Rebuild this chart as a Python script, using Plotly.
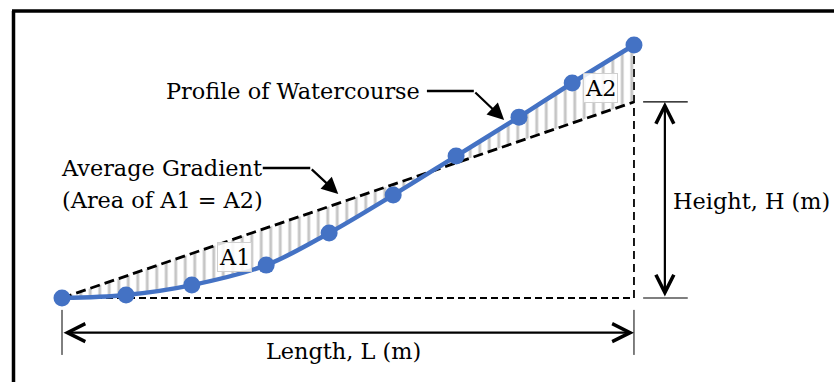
import plotly.graph_objects as go

# ---- data (relative units: length L = 100, height of profile end = 100) ----
distance = [0, 11.2, 22.7, 35.7, 46.7, 57.9, 68.9, 79.9, 89.2, 100.0]
elevation = [0, 1.2, 5.1, 13.0, 25.7, 40.7, 56.1, 71.5, 85.0, 100.0]
length_L = 100.0
gradient_height = 77.5          # height H of the equal-area average gradient
labels = {
    "profile": "Profile of Watercourse",
    "gradient": "Average Gradient",
    "area": "(Area of A1 = A2)",
    "length": "Length, L (m)",
    "height": "Height, H (m)",
    "a1": "A1",
    "a2": "A2",
}

BLUE = "#4472C4"
FONT = dict(family="DejaVu Serif, serif", size=22.4, color="black")

fig = go.Figure()

# average gradient line (dashed)
fig.add_trace(go.Scatter(
    x=[0, length_L], y=[0, gradient_height], mode="lines",
    line=dict(color="black", width=2.8, dash="10px,5px"), hoverinfo="skip"))

# profile with hatched fill between it and the gradient line
fig.add_trace(go.Scatter(
    x=distance, y=elevation, mode="lines+markers",
    line=dict(color=BLUE, width=4.5, shape="spline"),
    marker=dict(color=BLUE, size=17),
    fill="tonexty", fillcolor="rgba(0,0,0,0)",
    fillpattern=dict(shape="|", fgcolor="#8C8C8C", bgcolor="rgba(0,0,0,0)",
                     size=9.5, solidity=0.3),
    hoverinfo="skip"))

shapes = []
# baseline and vertical dashed lines
shapes.append(dict(type="line", xref="x", yref="y", x0=0, y0=0, x1=length_L, y1=0,
                   line=dict(color="black", width=1.8, dash="7px,4px"), layer="below"))
shapes.append(dict(type="line", xref="x", yref="y", x0=length_L, y0=0, x1=length_L, y1=elevation[-1],
                   line=dict(color="black", width=1.8, dash="8px,5px"), layer="below"))
# length tick marks
for xv in (0, length_L):
    shapes.append(dict(type="line", xref="x", yref="y", x0=xv, y0=-4.7, x1=xv, y1=-22.5,
                       line=dict(color="black", width=1)))
# height tick marks
shapes.append(dict(type="line", xref="x", yref="y", x0=101.6, y0=gradient_height, x1=109.4,
                   y1=gradient_height, line=dict(color="black", width=1.2)))
shapes.append(dict(type="line", xref="x", yref="y", x0=101.6, y0=0, x1=109.4, y1=0,
                   line=dict(color="#555555", width=1.5)))
# connector horizontals
shapes.append(dict(type="line", xref="x", yref="y", x0=63.8, y0=81.8, x1=72.0, y1=81.8,
                   line=dict(color="black", width=2.5)))
shapes.append(dict(type="line", xref="x", yref="y", x0=35.1, y0=51.4, x1=43.4, y1=51.4,
                   line=dict(color="black", width=2.5)))
# frame (left and top edges)
shapes.append(dict(type="line", xref="paper", yref="paper", x0=13.5 / 834, y0=-0.05,
                   x1=13.5 / 834, y1=1 - 11 / 382, line=dict(color="black", width=3.5)))
shapes.append(dict(type="line", xref="paper", yref="paper", x0=12 / 834, y0=1 - 11 / 382,
                   x1=1.05, y1=1 - 11 / 382, line=dict(color="black", width=3.5)))

annotations = []
# length double arrow
annotations.append(dict(x=length_L, y=-13.7, ax=0, ay=-13.7, xref="x", yref="y",
                        axref="x", ayref="y", text="", showarrow=True,
                        arrowside="end+start", arrowhead=5, startarrowhead=5,
                        arrowsize=1.6, startarrowsize=1.6, arrowwidth=2.2,
                        arrowcolor="black", standoff=0, startstandoff=0))
# height double arrow
annotations.append(dict(x=105.4, y=gradient_height, ax=105.4, ay=0, xref="x", yref="y",
                        axref="x", ayref="y", text="", showarrow=True,
                        arrowside="end+start", arrowhead=5, startarrowhead=5,
                        arrowsize=1.6, startarrowsize=1.6, arrowwidth=2.2,
                        arrowcolor="black", standoff=0, startstandoff=0))
# connector arrows
annotations.append(dict(x=77.3, y=70.4, ax=72.0, ay=81.8, xref="x", yref="y",
                        axref="x", ayref="y", text="", showarrow=True,
                        arrowhead=2, arrowsize=1.5, arrowwidth=2.2, arrowcolor="black",
                        standoff=0))
annotations.append(dict(x=48.3, y=41.1, ax=43.4, ay=51.4, xref="x", yref="y",
                        axref="x", ayref="y", text="", showarrow=True,
                        arrowhead=2, arrowsize=1.5, arrowwidth=2.2, arrowcolor="black",
                        standoff=0))
# text labels
annotations.append(dict(x=62.9, y=81.8, xref="x", yref="y", text=labels["profile"],
                        showarrow=False, xanchor="right", yanchor="middle", font=FONT))
annotations.append(dict(x=-0.5, y=51.4, xref="x", yref="y", text=labels["gradient"],
                        showarrow=False, xanchor="left", yanchor="middle", font=FONT))
annotations.append(dict(x=-0.3, y=38.6, xref="x", yref="y", text=labels["area"],
                        showarrow=False, xanchor="left", yanchor="middle", font=FONT))
annotations.append(dict(x=49.3, y=-20.9, xref="x", yref="y", text=labels["length"],
                        showarrow=False, xanchor="center", yanchor="middle", font=FONT))
annotations.append(dict(x=106.4, y=38.2, xref="x", yref="y", text=labels["height"],
                        showarrow=False, xanchor="left", yanchor="middle", font=FONT))
annotations.append(dict(x=30.1, y=16.2, xref="x", yref="y", text=labels["a1"],
                        showarrow=False, xanchor="center", yanchor="middle", font=FONT,
                        bgcolor="rgba(255,255,255,0.85)", bordercolor="#D0D0D0",
                        borderwidth=1, borderpad=1))
annotations.append(dict(x=94.2, y=83.0, xref="x", yref="y", text=labels["a2"],
                        showarrow=False, xanchor="center", yanchor="middle", font=FONT,
                        bgcolor="rgba(255,255,255,0.85)", bordercolor="#D0D0D0",
                        borderwidth=1, borderpad=1))

fig.update_layout(
    width=834, height=382,
    margin=dict(l=0, r=0, t=0, b=0),
    paper_bgcolor="white", plot_bgcolor="white",
    showlegend=False, hovermode=False,
    shapes=shapes, annotations=annotations,
    xaxis=dict(range=[-10.84, 134.97], visible=False, fixedrange=True),
    yaxis=dict(range=[-33.2, 117.8], visible=False, fixedrange=True),
)

fig.write_html("out.html", config={"displayModeBar": False},
               post_script="document.body.style.margin='0';document.body.style.overflow='hidden';")
